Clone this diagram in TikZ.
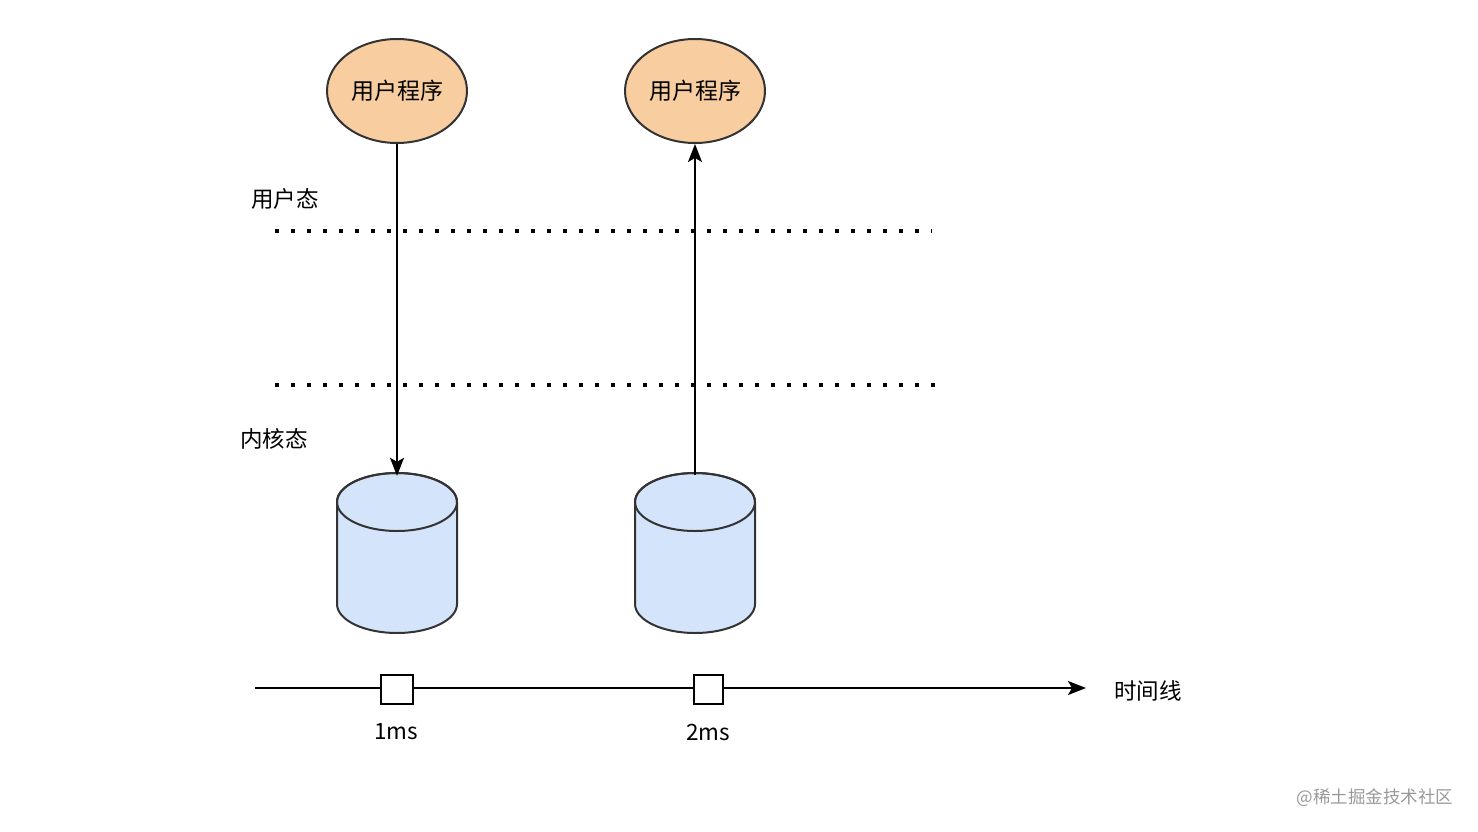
\documentclass[tikz,border=0pt]{standalone}
\usepackage{fontspec}
\setmainfont{Noto Sans CJK SC}
\usetikzlibrary{shapes.geometric,arrows.meta}
\definecolor{orfill}{HTML}{F8CDA0}
\definecolor{blfill}{HTML}{D4E4FA}
\definecolor{strk}{HTML}{333333}
\tikzset{bigtip/.tip={Stealth[length=18pt,width=14pt,inset=4pt]}}
\begin{document}
\begin{tikzpicture}[x=1pt,y=-1pt,
  prog/.style={ellipse,draw=strk,line width=2pt,fill=orfill,minimum width=140pt,minimum height=104pt,inner sep=0pt,font=\fontsize{23}{27}\selectfont},
  storebox/.style={minimum width=120pt,minimum height=160pt,inner sep=0pt},
  storeline/.style={draw=strk,line width=2pt},
  lbl/.style={inner sep=0pt,font=\fontsize{22.5}{26}\selectfont},
  dots/.style={line width=4pt,dash pattern=on 4pt off 12pt},
  arr/.style={line width=2pt,-bigtip},
  tick/.style={draw=black,line width=2pt,fill=white,minimum height=29pt,inner sep=0pt}
]
\useasboundingbox (0,0) rectangle (1478,832);
\node[prog] (p1) at (397,91) {用户程序};
\node[prog] (p2) at (695,91) {用户程序};
\node[lbl] (us) at (285,199) {用户态};
\node[lbl] (ks) at (274,439) {内核态};
\coordinate (d1a) at (275,231); \coordinate (d1b) at (932,231);
\coordinate (d2a) at (275,385); \coordinate (d2b) at (936,385);
\draw[dots] (d1a) -- (d1b);
\draw[dots] (d2a) -- (d2b);
% cylinders
\foreach \cx/\nm in {397/c1,695/c2}{
  \node[storebox] (\nm) at (\cx,553) {};
  \path[storeline,fill=blfill] (\cx-60,502) -- (\cx-60,604)
     arc[start angle=180,end angle=0,x radius=60,y radius=29]
     -- (\cx+60,502)
     arc[start angle=0,end angle=-180,x radius=60,y radius=29] -- cycle;
  \draw[storeline] (\cx,502) ellipse[x radius=60,y radius=29];
}
\draw[arr] (p1.south) -- ([yshift=-3pt]c1.north);
\draw[arr] ([yshift=-2pt]c2.north) -- (p2.south);
\coordinate (ta) at (255,688);
\coordinate (tb) at (1086,688);
\draw[arr] (ta) -- (tb);
\node[tick,minimum width=32pt] (s1) at (397,689) {};
\node[tick,minimum width=29pt] (s2) at (708.5,689) {};
\node[lbl] (l1) at (396,732) {1ms};
\node[lbl] (l2) at (708,732) {2ms};
\node[lbl] (tl) at (1148,691) {时间线};
\node[inner sep=0pt,text=black!40,font=\fontsize{17.5}{20}\selectfont] (wm) at (1375,798) {@稀土掘金技术社区};
\end{tikzpicture}
\end{document}
